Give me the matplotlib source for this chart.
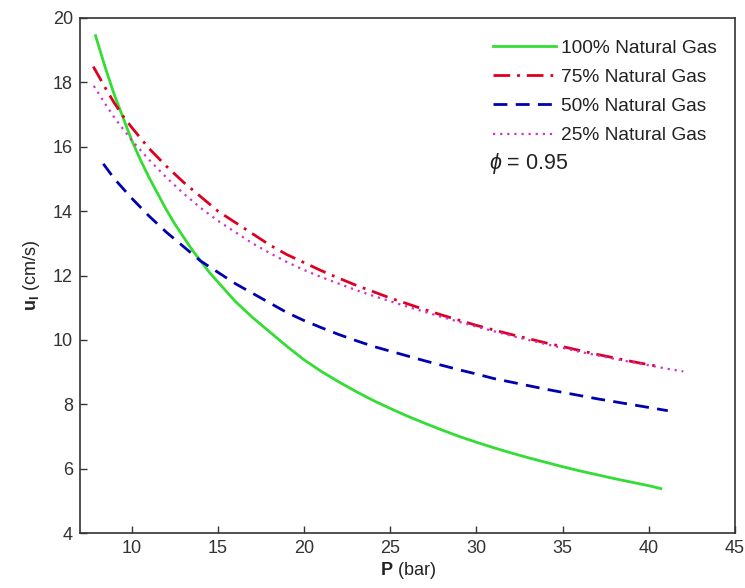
import matplotlib
matplotlib.use("Agg")
import matplotlib.pyplot as plt

plt.rcParams['font.family'] = ['Liberation Sans', 'DejaVu Sans']
plt.rcParams['mathtext.fontset'] = 'custom'
plt.rcParams['mathtext.rm'] = 'Liberation Sans'
plt.rcParams['mathtext.it'] = 'Liberation Sans:italic'
plt.rcParams['mathtext.bf'] = 'Liberation Sans:bold'

# Data
p_100 = [7.9, 8.5, 9, 9.5, 10, 10.5, 11, 11.5, 12, 12.5, 13, 13.5, 14, 14.5, 15, 16, 17, 18, 19,
         20, 21, 22, 23, 24, 25, 26, 27, 28, 29, 30, 31, 32, 33, 34, 35, 36, 37, 38, 39, 40, 40.7]
u_100 = [19.45, 18.4, 17.6, 16.9, 16.2, 15.6, 15.05, 14.55, 14.05, 13.6, 13.2, 12.8, 12.45, 12.1,
         11.8, 11.2, 10.7, 10.25, 9.8, 9.38, 9.02, 8.7, 8.4, 8.12, 7.87, 7.63, 7.41, 7.2, 7.0, 6.82,
         6.65, 6.49, 6.34, 6.2, 6.06, 5.93, 5.81, 5.69, 5.58, 5.47, 5.38]

p_75 = [7.77, 8.5, 9, 9.5, 10, 11, 12, 13, 14, 15, 16, 17, 18, 19, 20, 21, 22, 23, 24, 25, 26,
        27, 28, 29, 30, 31, 32, 33, 34, 35, 36, 37, 38, 39, 40, 40.4]
u_75 = [18.49, 17.8, 17.35, 16.95, 16.6, 15.95, 15.4, 14.9, 14.45, 14.0, 13.65, 13.3, 12.95, 12.65,
        12.4, 12.15, 11.92, 11.7, 11.5, 11.3, 11.12, 10.94, 10.77, 10.61, 10.45, 10.31, 10.17, 10.04,
        9.91, 9.79, 9.67, 9.55, 9.44, 9.33, 9.23, 9.19]

p_50 = [8.35, 9, 9.5, 10, 11, 12, 13, 14, 15, 16, 17, 18, 19, 20, 21, 22, 23, 24, 25, 26, 27, 28,
        29, 30, 31, 32, 33, 34, 35, 36, 37, 38, 39, 40, 41.1]
u_50 = [15.47, 15.0, 14.7, 14.4, 13.85, 13.35, 12.9, 12.45, 12.1, 11.75, 11.45, 11.15, 10.85, 10.6,
        10.38, 10.17, 9.98, 9.8, 9.65, 9.5, 9.35, 9.21, 9.07, 8.94, 8.8, 8.69, 8.58, 8.47, 8.37, 8.27,
        8.17, 8.08, 7.99, 7.9, 7.8]

p_25 = [7.8, 8.5, 9, 9.5, 10, 11, 12, 13, 14, 15, 16, 17, 18, 19, 20, 21, 22, 23, 24, 25, 26, 27,
        28, 29, 30, 31, 32, 33, 34, 35, 36, 37, 38, 39, 40, 41, 42]
u_25 = [17.89, 17.3, 16.9, 16.55, 16.2, 15.6, 15.05, 14.55, 14.1, 13.7, 13.35, 13.0, 12.7, 12.42,
        12.17, 11.95, 11.75, 11.55, 11.37, 11.2, 11.03, 10.87, 10.71, 10.56, 10.41, 10.27, 10.13,
        10.0, 9.87, 9.75, 9.63, 9.52, 9.41, 9.31, 9.21, 9.11, 9.02]

labels = ['100% Natural Gas', '75% Natural Gas', '50% Natural Gas', '25% Natural Gas']
x_ticks = [10, 15, 20, 25, 30, 35, 40, 45]
y_ticks = [4, 6, 8, 10, 12, 14, 16, 18, 20]

fig = plt.figure(figsize=(7.45, 5.88), dpi=100)
ax = fig.add_axes([0.1074, 0.0935, 0.8792, 0.8759])

ax.plot(p_100, u_100, color='#33dd33', lw=2.0, ls='-', label=labels[0])
ax.plot(p_75, u_75, color='#dd0022', lw=2.0, ls=(0, (6, 2.5, 1, 2.5)), label=labels[1])
ax.plot(p_50, u_50, color='#0000b0', lw=2.0, ls=(0, (5, 3)), label=labels[2])
ax.plot(p_25, u_25, color='#cc33cc', lw=1.6, ls=(0, (1, 2.2)), label=labels[3])

ax.set_xlim(7, 45)
ax.set_ylim(4, 20)
ax.set_xticks(x_ticks)
ax.set_yticks(y_ticks)
ax.tick_params(direction='in', length=5, width=1, labelsize=13, colors='#333333',
               top=False, right=False, pad=5)
for s in ax.spines.values():
    s.set_color('#333333')
    s.set_linewidth(1.2)

ax.set_xlabel(r'$\mathbf{P}$ (bar)', fontsize=13, color='#222222', labelpad=2)
ax.set_ylabel(r'$\mathbf{u_l}$ (cm/s)', fontsize=13, color='#222222', labelpad=8)

leg = ax.legend(loc='upper right', bbox_to_anchor=(0.9725, 0.959), frameon=False,
                borderpad=0, borderaxespad=0,
                fontsize=13.8, handlelength=3.3, handletextpad=0.27, labelspacing=0.62)
for t in leg.get_texts():
    t.set_color('#222222')

ax.text(0.624, 0.718, r'$\phi$ = 0.95', transform=ax.transAxes, fontsize=15.5,
        color='#222222', va='center', ha='left')

fig.savefig('out.png', dpi=100)
